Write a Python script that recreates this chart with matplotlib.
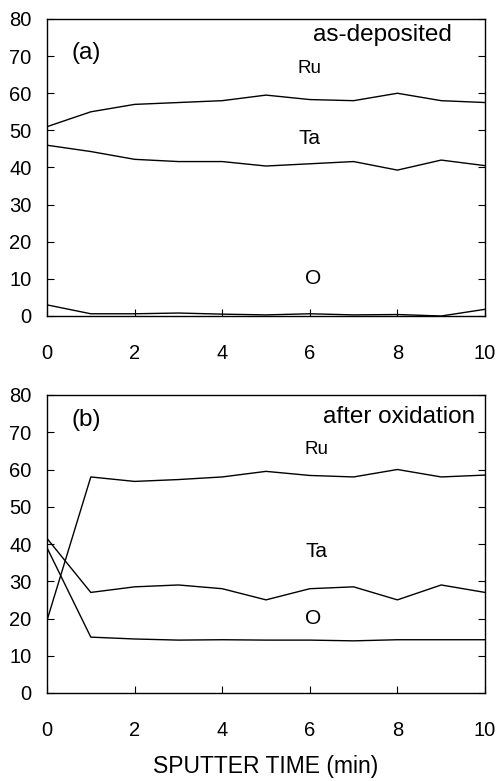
import matplotlib
matplotlib.use("Agg")
import matplotlib.pyplot as plt

plt.rcParams['font.family'] = ['Liberation Sans', 'DejaVu Sans']

time = [0, 1, 2, 3, 4, 5, 6, 7, 8, 9, 10]
ru_a = [51, 55, 57, 57.5, 58, 59.5, 58.3, 58, 60, 58, 57.5]
ta_a = [46, 44.3, 42.2, 41.6, 41.6, 40.4, 41, 41.6, 39.3, 42, 40.5]
o_a = [3, 0.6, 0.6, 0.8, 0.5, 0.3, 0.6, 0.3, 0.4, 0, 1.8]
ru_b = [19.5, 58, 56.8, 57.3, 58, 59.5, 58.4, 58, 60, 58, 58.5]
ta_b = [41.5, 27, 28.5, 29, 28, 25, 28, 28.5, 25, 29, 27]
o_b = [39, 15, 14.5, 14.2, 14.3, 14.2, 14.2, 14, 14.3, 14.3, 14.3]

xticks = [0, 2, 4, 6, 8, 10]
yticks = [0, 10, 20, 30, 40, 50, 60, 70, 80]

fig = plt.figure(figsize=(4.99, 7.81), dpi=100)
W, H = 499, 781
ax_a = fig.add_axes([47 / W, 1 - 316 / H, (485 - 47) / W, (316 - 19) / H])
ax_b = fig.add_axes([47 / W, 1 - 693 / H, (485 - 47) / W, (693 - 395) / H])

panels = [
    (ax_a, ru_a, ta_a, o_a, "(a)", 70.8, "as-deposited", 9.25, 75.7,
     [(6.0, 66.8, "Ru", 13.5), (6.0, 47.7, "Ta", 15), (6.08, 10, "O", 15)]),
    (ax_b, ru_b, ta_b, o_b, "(b)", 73.3, "after oxidation", 9.77, 74.2,
     [(6.16, 65.5, "Ru", 13.5), (6.16, 37.9, "Ta", 15), (6.08, 20.1, "O", 15)]),
]

for ax, ru, ta, o, tag, tagy, title, tx, ty, labels in panels:
    for s in (ru, ta, o):
        ax.plot(time, s, color="black", linewidth=1.0)
    ax.set_xlim(0, 10)
    ax.set_ylim(0, 80)
    ax.set_xticks(xticks)
    ax.set_yticks(yticks)
    ax.tick_params(axis="both", direction="in", labelsize=14.5, length=5, right=True, top=False)
    ax.tick_params(axis="x", pad=20)
    ax.tick_params(axis="y", pad=11)
    for sp in ax.spines.values():
        sp.set_linewidth(1.0)
    ax.text(0.57, tagy, tag, fontsize=17.5, ha="left", va="center")
    ax.text(tx, ty, title, fontsize=17.5, ha="right", va="center")
    for x, y, t, fs in labels:
        ax.text(x, y, t, fontsize=fs, ha="center", va="center")

ax_b.set_xlabel("SPUTTER TIME (min)", fontsize=16.5, labelpad=11)

fig.savefig("out.png", dpi=100)
